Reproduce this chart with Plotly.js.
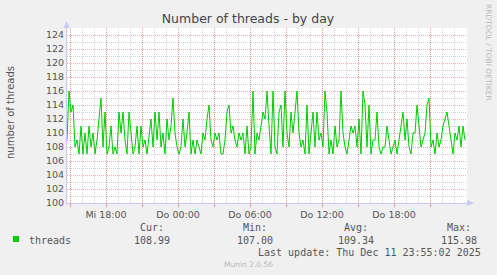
<!DOCTYPE html>
<html><head><meta charset="utf-8">
<script src="https://cdn.plot.ly/plotly-3.0.1.min.js"></script>
<style>html,body{margin:0;padding:0;background:#F0F0F0;}#c{width:497px;height:275px;}</style>
</head><body><div id="c"></div>
<script>
// Sampling: one value every 10 minutes, starting Wed 2025-12-10 14:45
const startTime = '2025-12-10T14:45:00';
const stepMinutes = 10;
const threads = [
 109,116,113,114,108,109,107,111,107,110,107,111,108,110,107,109,112,115,108,113,107,108,111,107,108,107,113,110,113,
 109,107,113,110,107,108,111,107,111,108,109,107,110,112,108,113,109,113,108,110,107,112,109,111,115,110,108,107,108,
 112,108,110,113,107,109,107,109,108,107,110,109,112,114,109,108,110,109,110,107,107,109,113,114,110,111,109,108,110,
 109,110,107,111,107,108,116,107,110,109,111,113,112,116,111,107,116,108,107,113,114,108,116,110,108,113,110,113,116,
 110,108,109,107,114,107,110,113,108,113,109,110,108,116,113,107,109,107,111,108,109,116,110,108,107,109,111,110,111,
 108,112,107,116,114,108,114,107,109,109,113,108,107,108,108,111,109,107,108,109,107,109,111,113,109,112,108,107,110,
 110,114,111,108,109,110,114,115,108,109,107,110,108,109,111,112,113,111,109,107,110,109,111,108,111,109
];
const tickVals = ['2025-12-10 15:00','2025-12-10 18:00','2025-12-10 21:00','2025-12-11 00:00','2025-12-11 03:00','2025-12-11 06:00','2025-12-11 09:00','2025-12-11 12:00','2025-12-11 15:00','2025-12-11 18:00','2025-12-11 21:00'];
const tickText = ['','Mi 18:00','','Do 00:00','','Do 06:00','','Do 12:00','','Do 18:00',''];
const statLabels = ['Cur:','Min:','Avg:','Max:'];
const statValues = ['108.99','107.00','109.34','115.98'];
const seriesName = 'threads';

const t0 = new Date(startTime + 'Z').getTime();
const times = threads.map((v,i)=>{
  const d = new Date(t0 + i*stepMinutes*60000);
  return d.toISOString().slice(0,19).replace('T',' ');
});

const mono = 'DejaVu Sans Mono, monospace';
const sans = 'DejaVu Sans, sans-serif';
const px = x => (x-67)/400;
const py = y => (203-y)/175;

const statX = [152,255,356,459];
const ann = [];
statLabels.forEach((s,i)=>{
  ann.push({text:s,x:px(statX[i]),y:py(227),xref:'paper',yref:'paper',xanchor:'center',yanchor:'middle',showarrow:false,font:{family:mono,size:10,color:'#555'}});
  ann.push({text:statValues[i],x:px(statX[i]),y:py(240),xref:'paper',yref:'paper',xanchor:'center',yanchor:'middle',showarrow:false,font:{family:mono,size:10,color:'#555'}});
});
ann.push({text:seriesName,x:px(27),y:py(240),xref:'paper',yref:'paper',xanchor:'left',yanchor:'middle',showarrow:false,font:{family:mono,size:10,color:'#555'}});
ann.push({text:'Last update: Thu Dec 11 23:55:02 2025',x:px(483),y:py(252),xref:'paper',yref:'paper',xanchor:'right',yanchor:'middle',showarrow:false,font:{family:mono,size:10,color:'#555'}});
ann.push({text:'Munin 2.0.56',x:px(248),y:py(264),xref:'paper',yref:'paper',xanchor:'center',yanchor:'middle',showarrow:false,font:{family:sans,size:7.5,color:'#b8b8b8'}});
ann.push({text:'RRDTOOL / TOBI OETIKER',x:px(489),y:py(52),xref:'paper',yref:'paper',xanchor:'center',yanchor:'middle',textangle:90,showarrow:false,font:{family:sans,size:7.5,color:'#bbbbbb'}});
ann.push({text:'number of threads',x:px(10),y:py(113),xref:'paper',yref:'paper',xanchor:'center',yanchor:'middle',textangle:-90,showarrow:false,font:{family:sans,size:10,color:'#555'}});

const axisCol = '#c8c8f4';
const shapes = [
  {type:'rect',xref:'paper',yref:'paper',x0:px(13),x1:px(19),y0:py(236),y1:py(242),fillcolor:'#00CC00',line:{width:0}},
  {type:'path',xref:'paper',yref:'paper',path:`M ${px(63.5)} ${py(28)} L ${px(69.5)} ${py(28)} L ${px(66.5)} ${py(21)} Z`,fillcolor:axisCol,line:{width:0}},
  {type:'path',xref:'paper',yref:'paper',path:`M ${px(467)} ${py(200)} L ${px(467)} ${py(206)} L ${px(474)} ${py(203)} Z`,fillcolor:axisCol,line:{width:0}}
];

const majorCol = 'rgba(235,90,90,0.5)';
const minorCol = 'rgba(160,160,160,0.45)';
const data = [{x:times,y:threads,type:'scatter',mode:'lines',line:{color:'#00CC00',width:1},hoverinfo:'skip'}];
const layout = {
  width:497,height:275,
  paper_bgcolor:'#F0F0F0',plot_bgcolor:'#FFFFFF',
  margin:{l:67,r:30,t:28,b:72,pad:0},
  showlegend:false,
  title:{text:'Number of threads - by day',x:0.499,xanchor:'center',y:1-19/275,yanchor:'middle',font:{family:sans,size:12.5,color:'#444'}},
  xaxis:{type:'date',range:['2025-12-10 14:45','2025-12-12 00:05'],tickmode:'array',tickvals:tickVals,ticktext:tickText,
    showgrid:true,gridcolor:majorCol,griddash:'1px,1px',gridwidth:1,
    ticks:'outside',ticklen:3,tickcolor:'rgba(230,80,80,0.6)',
    showline:true,linecolor:axisCol,linewidth:1,zeroline:false,
    tickfont:{family:sans,size:9.5,color:'#555'},
    minor:{tickmode:'linear',tick0:'2025-12-10 15:00',dtick:3600000,showgrid:true,gridcolor:minorCol,griddash:'1px,1px',gridwidth:1,ticks:''}},
  yaxis:{range:[100,125],tickmode:'linear',tick0:100,dtick:2,
    showgrid:true,gridcolor:majorCol,griddash:'1px,1px',gridwidth:1,
    ticks:'',showline:true,linecolor:axisCol,linewidth:1,zeroline:false,
    tickfont:{family:sans,size:9.5,color:'#555'},
    minor:{tickmode:'linear',tick0:100,dtick:1,showgrid:true,gridcolor:minorCol,griddash:'1px,1px',gridwidth:1,ticks:''}},
  annotations:ann,shapes:shapes
};
Plotly.newPlot('c',data,layout,{staticPlot:true,displayModeBar:false});
</script></body></html>
